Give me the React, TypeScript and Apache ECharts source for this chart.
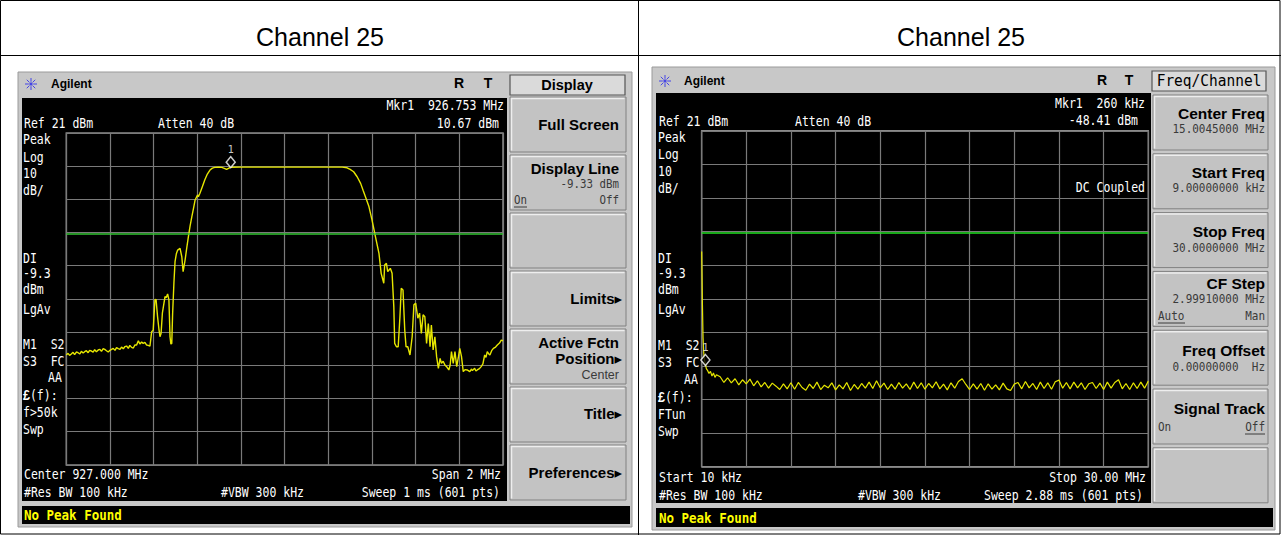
import React, { useEffect, useRef } from "react";
import * as echarts from "echarts";

// ---------- data ----------
const headerTitles = ["Channel 25", "Channel 25"];
const refLevelDbm = 21;

// Left analyser: centre 927 MHz, span 2 MHz
const leftStartMHz = 926;
const leftStopMHz = 928;
const leftFreqMHz = [
  926.000, 926.008, 926.015, 926.023, 926.031, 926.038, 926.046, 926.054, 926.062, 926.069,
  926.077, 926.084, 926.092, 926.100, 926.107, 926.115, 926.123, 926.130, 926.138, 926.146,
  926.154, 926.161, 926.169, 926.176, 926.184, 926.192, 926.200, 926.207, 926.215, 926.223,
  926.230, 926.238, 926.246, 926.253, 926.261, 926.268, 926.276, 926.284, 926.291, 926.299,
  926.307, 926.314, 926.322, 926.330, 926.337, 926.345, 926.352, 926.360, 926.368, 926.375,
  926.383, 926.391, 926.398, 926.406, 926.411, 926.418, 926.424, 926.429, 926.434, 926.440,
  926.452, 926.458, 926.464, 926.470, 926.475, 926.479, 926.483, 926.487, 926.493, 926.498,
  926.504, 926.510, 926.521, 926.529, 926.535, 926.544, 926.552, 926.559, 926.567, 926.575,
  926.583, 926.590, 926.601, 926.605, 926.612, 926.623, 926.634, 926.646, 926.658, 926.669,
  926.680, 926.696, 926.712, 926.724, 926.734, 926.745, 926.753, 926.800, 926.900, 927.000,
  927.100, 927.200, 927.264, 927.286, 927.300, 927.316, 927.332, 927.348, 927.360, 927.370,
  927.386, 927.400, 927.416, 927.432, 927.442, 927.454, 927.458, 927.466, 927.472, 927.478,
  927.484, 927.492, 927.500, 927.504, 927.512, 927.520, 927.528, 927.534, 927.542, 927.550,
  927.556, 927.564, 927.574, 927.584, 927.592, 927.600, 927.610, 927.618, 927.626, 927.634,
  927.642, 927.650, 927.658, 927.666, 927.672, 927.680, 927.688, 927.696, 927.704, 927.712,
  927.718, 927.726, 927.734, 927.744, 927.752, 927.758, 927.764, 927.772, 927.780, 927.788,
  927.796, 927.802, 927.810, 927.818, 927.826, 927.836, 927.848, 927.856, 927.860, 927.870,
  927.876, 927.882, 927.892, 927.900, 927.908, 927.916, 927.922, 927.928, 927.934, 927.940,
  927.948, 927.956, 927.966, 927.974, 927.984, 927.992, 928.000,
];
const leftLevelDbm = [
  -45.9, -45.4, -46.0, -45.6, -45.1, -45.8, -45.0, -45.2, -45.6, -44.8,
  -45.3, -44.9, -44.6, -45.2, -44.5, -44.7, -45.0, -44.3, -44.9, -44.4,
  -44.2, -44.8, -44.0, -44.2, -44.6, -45.0, -44.5, -44.2, -43.9, -44.5,
  -43.7, -44.0, -44.2, -43.5, -44.0, -43.4, -43.2, -43.9, -43.0, -43.6,
  -43.8, -42.9, -42.9, -41.6, -42.6, -42.0, -42.4, -42.1, -42.9, -43.0,
  -43.2, -38.9, -38.4, -29.3, -29.1, -34.4, -38.0, -40.4, -39.4, -33.3,
  -28.3, -28.6, -27.5, -29.3, -40.4, -42.6, -42.4, -33.3, -24.0, -17.8,
  -15.4, -14.3, -13.8, -16.3, -20.8, -17.3, -13.5, -10.3, -7.0, -4.2,
  -1.6, 0.8, 2.3, 1.8, 2.8, 4.8, 6.8, 8.6, 9.8, 10.4,
  10.6, 10.7, 10.6, 10.3, 10.0, 10.4, 10.67, 10.7, 10.7, 10.7,
  10.7, 10.7, 10.7, 10.5, 10.0, 9.3, 7.8, 5.8, 3.6, 1.8,
  -1.2, -5.2, -10.3, -15.3, -21.3, -24.3, -18.8, -18.3, -20.8, -20.3,
  -19.8, -21.3, -31.4, -42.4, -43.4, -43.4, -34.4, -25.8, -26.3, -38.4,
  -43.4, -43.4, -45.9, -40.4, -30.8, -30.3, -34.8, -33.3, -39.4, -33.8,
  -34.4, -42.4, -36.4, -43.4, -36.9, -44.4, -40.4, -46.4, -49.9, -46.9,
  -48.4, -47.8, -48.9, -49.6, -50.4, -48.9, -44.9, -48.4, -44.9, -49.4,
  -46.4, -43.9, -46.4, -50.9, -50.3, -50.4, -50.9, -50.1, -50.6, -49.9,
  -50.7, -50.4, -50.0, -49.4, -48.6, -45.9, -46.6, -44.9, -45.5, -45.9,
  -44.6, -43.9, -43.5, -42.9, -42.3, -41.4, -41.6,
];
const leftMarkerFreqMHz = [926.753];
const leftMarkerLevelDbm = [10.67];
const leftDisplayLineDbm = -9.33;

// Right analyser: start 10 kHz, stop 30 MHz
const rightStartMHz = 0.01;
const rightStopMHz = 30;
const rightHeadFreqMHz = [0.01, 0.03, 0.06, 0.1, 0.15, 0.2, 0.26, 0.32, 0.4, 0.5, 0.6, 0.7, 0.8, 0.9, 1.0];
const rightHeadLevelDbm = [-14.9, -21.0, -31.0, -40.5, -45.2, -47.3, -48.41, -49.8, -50.3, -51.2, -50.6, -52.0, -51.1, -52.4, -51.6];
const rightNoiseStartMHz = 1.25;
const rightNoiseStepMHz = 0.25;
const rightNoiseLevelDbm = [
  -52.2, -53.9, -52.5, -54.0, -52.8, -54.6, -53.1, -54.3, -52.9, -54.9,
  -53.4, -55.2, -53.9, -55.6, -54.1, -55.0, -56.0, -54.3, -55.8, -54.0,
  -55.9, -53.9, -55.4, -56.2, -54.4, -55.7, -53.8, -56.0, -54.7, -55.5,
  -54.0, -56.1, -54.6, -55.8, -53.9, -56.3, -54.5, -55.9, -54.2, -55.6,
  -53.8, -55.7, -53.4, -55.5, -54.1, -56.0, -54.4, -55.9, -53.9, -55.6,
  -54.3, -56.0, -53.8, -55.7, -54.0, -55.9, -54.2, -55.5, -53.7, -55.8,
  -54.4, -56.1, -54.0, -55.6, -53.6, -52.8, -54.5, -56.0, -54.3, -55.9,
  -54.2, -56.2, -54.3, -55.9, -54.6, -56.1, -54.1, -55.8, -56.3, -54.4,
  -53.9, -55.8, -53.6, -55.5, -54.2, -56.0, -53.8, -55.7, -54.0, -55.9,
  -53.7, -53.2, -55.6, -53.9, -55.8, -53.8, -55.5, -54.0, -56.0, -54.3,
  -53.9, -55.7, -54.1, -56.0, -53.8, -55.6, -53.9, -53.1, -55.8, -54.2,
  -56.0, -54.0, -55.7, -53.8, -55.6, -53.5,
];
const rightMarkerFreqMHz = [0.26];
const rightMarkerLevelDbm = [-48.41];
const rightDisplayLineDbm = -9.33;

// ---------- drawing helpers ----------
const MONO = "'DejaVu Sans Mono', 'Liberation Mono', monospace";
const SANS = "'Liberation Sans', Arial, Helvetica, 'DejaVu Sans', sans-serif";

type TO = { align?: string; color?: string; size?: number; weight?: string; family?: string; sy?: number; rich?: any };
function tx(x: number, y: number, text: string, o: TO = {}) {
  const family = o.family ?? MONO;
  const size = o.size ?? 11.5;
  const align = o.align ?? "left";
  const style: any = {
    text,
    fill: o.color ?? "#ffffff",
    fontSize: size,
    fontFamily: family,
    fontWeight: o.weight ?? "normal",
    align,
    verticalAlign: "middle",
    textAlign: align,
    textVerticalAlign: "middle",
  };
  if (o.rich) style.rich = o.rich;
  return { type: "text", x, y, z: 20, scaleY: o.sy ?? (family === MONO ? 1.15 : 1), style };
}
function ln(x1: number, y1: number, x2: number, y2: number, color: string, w = 1, z = 20) {
  return { type: "line", z, shape: { x1, y1, x2, y2 }, style: { stroke: color, lineWidth: w } };
}
function rc(x: number, y: number, w: number, h: number, fill: string, stroke?: string, z = -3, lw = 1) {
  const style: any = { fill, lineWidth: lw };
  if (stroke) style.stroke = stroke;
  return { type: "rect", z, shape: { x, y, width: w, height: h }, style };
}
function star(cx: number, cy: number) {
  const c = "#4545e6";
  const els: any[] = [];
  for (let k = 0; k < 8; k++) {
    const a = (k * Math.PI) / 4;
    els.push(ln(cx + 2.2 * Math.cos(a), cy + 2.2 * Math.sin(a), cx + 6 * Math.cos(a), cy + 6 * Math.sin(a), c, 1));
  }
  els.push({ type: "circle", z: 20, shape: { cx, cy, r: 1.6 }, style: { fill: c } });
  return els;
}
function key(x: number, y: number, w: number, h: number) {
  return [
    rc(x, y, w, h, "#c3c3c3", "#808080", -1, 1),
    {
      type: "polyline",
      z: -0.5,
      shape: { points: [[x + 1.5, y + h - 1.5], [x + 1.5, y + 1.5], [x + w - 1.5, y + 1.5]] },
      style: { stroke: "#eeeeee", lineWidth: 1.5, fill: "none" },
    },
  ];
}
const KB = (x: number, y: number, t: string, size = 15) =>
  tx(x, y, t, { align: "right", color: "#000", family: SANS, weight: "bold", size });
const KV = (x: number, y: number, t: string, align = "right", size = 11) =>
  tx(x, y, t, { align, color: "#3a3a3a", size, sy: 1.1 });
const richF = (size: number) => ({
  b: { fontWeight: "bold", fontFamily: SANS, fontSize: size + 1, fill: "#fff" },
  n: { fontFamily: MONO, fontSize: size, fill: "#fff" },
});

function buildGraphics() {
  const g: any[] = [];
  // table
  g.push({ type: "rect", z: 30, shape: { x: 0.5, y: 0.5, width: 1279.5, height: 533.5 }, style: { fill: "none", stroke: "#000", lineWidth: 1 } });
  g.push(ln(638.5, 0, 638.5, 535, "#000", 1, 30));
  g.push(ln(0, 55.5, 1281, 55.5, "#000", 1, 30));
  g.push(tx(320, 37, headerTitles[0], { align: "center", color: "#000", family: SANS, size: 25 }));
  g.push(tx(961, 37, headerTitles[1], { align: "center", color: "#000", family: SANS, size: 25 }));

  // ---------- left screenshot ----------
  g.push(rc(18, 72, 614, 455, "#c8c8c8", "#9a9a9a", -4));
  g.push(rc(22, 98, 485, 403, "#000000", undefined, -3));
  g.push(rc(22, 506, 608, 18, "#000000", undefined, -3));
  g.push(...star(31, 84));
  g.push(tx(51, 84, "Agilent", { color: "#000", family: SANS, weight: "bold", size: 12 }));
  g.push(tx(459, 83, "R", { align: "center", color: "#000", family: SANS, weight: "bold", size: 14 }));
  g.push(tx(488, 83, "T", { align: "center", color: "#000", family: SANS, weight: "bold", size: 14 }));
  g.push(rc(510, 75, 115, 20, "#dadada", "#555555", -1, 1.2));
  g.push(tx(567, 85, "Display", { align: "center", color: "#000", family: SANS, weight: "bold", size: 14.5 }));
  for (let i = 0; i < 7; i++) g.push(...key(510, 97 + i * 58, 116, 55));
  g.push(KB(619, 124, "Full Screen"));
  g.push(KB(619, 168, "Display Line"));
  g.push(KV(619, 184, "-9.33 dBm", "right", 10.8));
  g.push(KV(514, 200, "On", "left", 10.8));
  g.push(ln(514, 207, 527, 207, "#3a3a3a", 1));
  g.push(KV(619, 200, "Off", "right", 10.8));
  g.push(KB(622, 298, "Limits▸"));
  g.push(KB(619, 342, "Active Fctn"));
  g.push(KB(622, 358, "Position▸"));
  g.push(tx(619, 375, "Center", { align: "right", color: "#3a3a3a", family: SANS, size: 12.5 }));
  g.push(KB(622, 413, "Title▸"));
  g.push(KB(622, 472, "Preferences▸"));

  g.push(tx(504, 105, "Mkr1  926.753 MHz", { align: "right" }));
  g.push(tx(499, 123, "10.67 dBm", { align: "right" }));
  g.push(tx(24, 123, "Ref 21 dBm"));
  g.push(tx(158, 123, "Atten 40 dB"));
  const leftSide: [number, string][] = [
    [139, "Peak"], [157, "Log"], [173, "10"], [190, "dB/"],
    [258, "DI"], [273, "-9.3"], [289, "dBm"], [309, "LgAv"],
    [344, "M1  S2"], [361, "S3  FC"], [412, "f>50k"], [429, "Swp"],
  ];
  leftSide.forEach(([y, t]) => g.push(tx(23, y, t)));
  g.push(tx(48, 377, "AA"));
  g.push(tx(23, 395, "{b|£}{n|(f):}", { rich: richF(11.5) }));
  g.push(tx(24, 474, "Center 927.000 MHz"));
  g.push(tx(501, 474, "Span 2 MHz", { align: "right" }));
  g.push(tx(24, 492, "#Res BW 100 kHz"));
  g.push(tx(221, 492, "#VBW 300 kHz"));
  g.push(tx(500, 492, "Sweep 1 ms (601 pts)", { align: "right" }));
  g.push(tx(24, 515, "No Peak Found", { color: "#ffff00", weight: "bold", size: 12.5, sy: 1.1 }));

  // ---------- right screenshot ----------
  g.push(rc(652, 67, 623, 463, "#c8c8c8", "#9a9a9a", -4));
  g.push(rc(656, 93, 495, 410, "#000000", undefined, -3));
  g.push(rc(656, 508, 617, 19, "#000000", undefined, -3));
  g.push(...star(665, 81));
  g.push(tx(684, 81, "Agilent", { color: "#000", family: SANS, weight: "bold", size: 12 }));
  g.push(tx(1102, 80, "R", { align: "center", color: "#000", family: SANS, weight: "bold", size: 14 }));
  g.push(tx(1129, 80, "T", { align: "center", color: "#000", family: SANS, weight: "bold", size: 14 }));
  g.push(rc(1152, 71, 114, 20, "#dadada", "#555555", -1, 1.2));
  g.push(tx(1209, 81, "Freq/Channel", { align: "center", color: "#000", size: 14.5, sy: 1.05 }));
  for (let i = 0; i < 7; i++) g.push(...key(1153, 95 + i * 58.8, 115, 55));
  g.push(KB(1265, 113, "Center Freq", 15.5));
  g.push(KV(1265, 129, "15.0045000 MHz"));
  g.push(KB(1265, 172, "Start Freq", 15.5));
  g.push(KV(1265, 188, "9.00000000 kHz"));
  g.push(KB(1265, 231, "Stop Freq", 15.5));
  g.push(KV(1265, 248, "30.0000000 MHz"));
  g.push(KB(1265, 283, "CF Step", 15.5));
  g.push(KV(1265, 299, "2.99910000 MHz"));
  g.push(KV(1158, 316, "Auto", "left"));
  g.push(ln(1158, 323, 1185, 323, "#3a3a3a", 1));
  g.push(KV(1265, 316, "Man"));
  g.push(KB(1265, 350, "Freq Offset", 15.5));
  g.push(KV(1265, 367, "0.00000000  Hz"));
  g.push(KB(1265, 408, "Signal Track", 15.5));
  g.push(KV(1158, 427, "On", "left"));
  g.push(KV(1265, 427, "Off"));
  g.push(ln(1245, 434, 1265, 434, "#3a3a3a", 1));

  g.push(tx(1145, 103, "Mkr1  260 kHz", { align: "right" }));
  g.push(tx(1138, 120, "-48.41 dBm", { align: "right" }));
  g.push(tx(659, 121, "Ref 21 dBm"));
  g.push(tx(795, 121, "Atten 40 dB"));
  g.push(tx(1145, 187, "DC Coupled", { align: "right" }));
  const rightSide: [number, string][] = [
    [137, "Peak"], [154, "Log"], [171, "10"], [188, "dB/"],
    [258, "DI"], [273, "-9.3"], [289, "dBm"], [309, "LgAv"],
    [345, "M1  S2"], [362, "S3  FC"], [414, "FTun"], [431, "Swp"],
  ];
  rightSide.forEach(([y, t]) => g.push(tx(658, y, t)));
  g.push(tx(684, 379, "AA"));
  g.push(tx(658, 397, "{b|£}{n|(f):}", { rich: richF(11.5) }));
  g.push(tx(659, 477, "Start 10 kHz"));
  g.push(tx(1146, 477, "Stop 30.00 MHz", { align: "right" }));
  g.push(tx(659, 495, "#Res BW 100 kHz"));
  g.push(tx(858, 495, "#VBW 300 kHz"));
  g.push(tx(1143, 495, "Sweep 2.88 ms (601 pts)", { align: "right" }));
  g.push(tx(659, 518, "No Peak Found", { color: "#ffff00", weight: "bold", size: 12.5, sy: 1.1 }));
  return g;
}

function axisPair(gridIndex: number, xmin: number, xmax: number, xint: number) {
  const hidden = { axisLabel: { show: false }, axisTick: { show: false }, axisLine: { show: false } };
  const split = { show: true, lineStyle: { color: "#7a7a7a", width: 1.2, type: "solid" } };
  return {
    x: { type: "value", gridIndex, min: xmin, max: xmax, interval: xint, splitLine: split, ...hidden },
    y: { type: "value", gridIndex, min: -100, max: 0, interval: 10, splitLine: split, ...hidden },
  };
}

export default function App() {
  const ref = useRef<HTMLDivElement>(null);
  useEffect(() => {
    document.body.style.margin = "0";
    if (!ref.current) return;
    const chart = echarts.init(ref.current, undefined, { renderer: "svg" });

    const leftData = leftFreqMHz.map((f, i) => [Math.round(f * 10000) / 10, leftLevelDbm[i] - refLevelDbm]);
    const rightFreqs = [
      ...rightHeadFreqMHz,
      ...rightNoiseLevelDbm.map((_, i) => rightNoiseStartMHz + i * rightNoiseStepMHz),
    ];
    const rightLevels = [...rightHeadLevelDbm, ...rightNoiseLevelDbm];
    const rightData = rightFreqs.map((f, i) => [Math.round((f - rightStartMHz) * 10000) / 10, rightLevels[i] - refLevelDbm]);

    const a0 = axisPair(0, leftStartMHz * 1000, leftStopMHz * 1000, 200);
    const a1 = axisPair(1, 0, (rightStopMHz - rightStartMHz) * 1000, 2999);

    const markerSeries = (xi: number, yi: number, x: number, y: number, off: number) => ({
      type: "scatter",
      xAxisIndex: xi,
      yAxisIndex: yi,
      z: 5,
      symbol: "diamond",
      symbolSize: [9, 11],
      symbolOffset: [0, off],
      itemStyle: { color: "#000", borderColor: "#fff", borderWidth: 1.5 },
      label: { show: true, formatter: "1", position: "top", distance: 1, color: "#fff", fontSize: 10, fontFamily: MONO },
      data: [[x, y]],
      silent: true,
    });
    const dl = (v: number, color: string) => ({
      silent: true,
      symbol: ["none", "none"],
      label: { show: false },
      lineStyle: { color, width: 1.5, type: "solid" },
      data: [{ yAxis: v - refLevelDbm }],
    });

    chart.setOption({
      animation: false,
      backgroundColor: "#ffffff",
      grid: [
        { left: 66.3, top: 132.9, width: 436.7, height: 332, show: true, borderColor: "#8a8a8a", borderWidth: 1.5, backgroundColor: "transparent" },
        { left: 701.7, top: 130.8, width: 446.6, height: 336, show: true, borderColor: "#8a8a8a", borderWidth: 1.5, backgroundColor: "transparent" },
      ],
      xAxis: [a0.x, a1.x],
      yAxis: [a0.y, a1.y],
      graphic: { elements: buildGraphics() },
      series: [
        {
          type: "line",
          xAxisIndex: 0,
          yAxisIndex: 0,
          showSymbol: false,
          symbol: "none",
          lineStyle: { color: "#e6e600", width: 1.4 },
          data: leftData,
          markLine: dl(leftDisplayLineDbm, "#33c433"),
          silent: true,
        },
        markerSeries(0, 0, Math.round(leftMarkerFreqMHz[0] * 10000) / 10, leftMarkerLevelDbm[0] - refLevelDbm, -5),
        {
          type: "line",
          xAxisIndex: 1,
          yAxisIndex: 1,
          showSymbol: false,
          symbol: "none",
          lineStyle: { color: "#e6e600", width: 1.2 },
          data: rightData,
          markLine: dl(rightDisplayLineDbm, "#22e022"),
          silent: true,
        },
        markerSeries(1, 1, Math.round((rightMarkerFreqMHz[0] - rightStartMHz) * 10000) / 10, rightMarkerLevelDbm[0] - refLevelDbm, -4),
      ],
    });
    return () => chart.dispose();
  }, []);
  return <div ref={ref} style={{ width: 1281, height: 535 }} />;
}
